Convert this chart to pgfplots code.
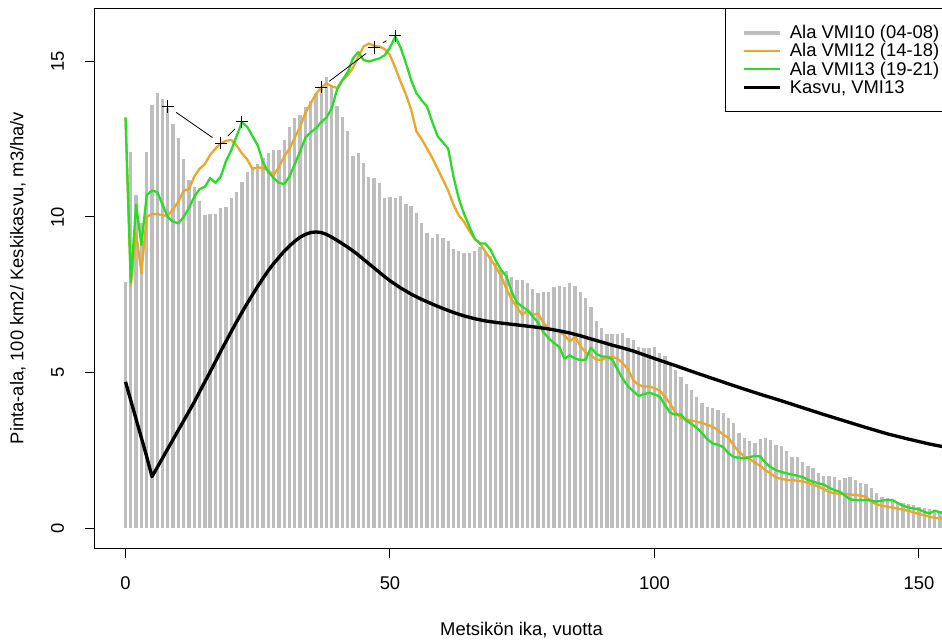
\documentclass[border=0pt]{standalone}
\usepackage{fontspec}
\setmainfont{Liberation Sans}
\usepackage{pgfplots}
\usepackage{pgfplotstable}
\pgfplotsset{compat=1.18}
\definecolor{barGray}{HTML}{BEBEBE}
\definecolor{lineOrange}{RGB}{236,166,40}
\definecolor{lineGreen}{RGB}{40,220,40}
\newcommand{\fnt}{\fontsize{13.8}{16.5}\selectfont}

\pgfplotstableread{
x y
0 7.9
1 12.1
2 10.7
3 9.8
4 12.1
5 13.6
6 14.0
7 13.8
8 13.5
9 13.0
10 12.55
11 11.85
12 11.2
13 10.95
14 10.5
15 10.06
16 10.1
17 10.1
18 10.28
19 10.33
20 10.6
21 10.8
22 11.13
23 11.46
24 11.62
25 11.72
26 11.89
27 12.05
28 12.15
29 12.15
30 12.48
31 12.9
32 13.17
33 13.28
34 13.55
35 13.72
36 13.95
37 14.2
38 14.49
39 14.22
40 13.57
41 13.23
42 12.78
43 11.96
44 12.06
45 11.75
46 11.3
47 11.24
48 11.08
49 10.62
50 10.64
51 10.62
52 10.69
53 10.42
54 10.36
55 10.12
56 9.8
57 9.48
58 9.31
59 9.45
60 9.31
61 9.23
62 8.97
63 8.92
64 8.83
65 8.83
66 8.9
67 9.03
68 8.92
69 8.73
70 8.51
71 8.3
72 8.27
73 8.08
74 7.97
75 7.97
76 7.89
77 7.67
78 7.57
79 7.6
80 7.6
81 7.74
82 7.78
83 7.76
84 7.87
85 7.78
86 7.6
87 7.38
88 7.12
89 6.67
90 6.42
91 6.24
92 6.25
93 6.24
94 6.28
95 6.1
96 6.05
97 5.83
98 5.8
99 5.78
100 5.83
101 5.62
102 5.53
103 5.3
104 5.08
105 4.87
106 4.62
107 4.44
108 4.22
109 4.01
110 3.9
111 3.85
112 3.79
113 3.71
114 3.53
115 3.39
116 3.06
117 2.88
118 2.8
119 2.74
120 2.85
121 2.88
122 2.83
123 2.67
124 2.64
125 2.49
126 2.27
127 2.27
128 2.13
129 1.99
130 1.92
131 1.76
132 1.67
133 1.66
134 1.64
135 1.54
136 1.6
137 1.64
138 1.54
139 1.44
140 1.42
141 1.28
142 1.14
143 1.01
144 0.98
145 0.9
146 0.85
147 0.79
148 0.77
149 0.74
150 0.69
151 0.64
152 0.6
153 0.58
154 0.55
155 0.52
}\bars

\pgfplotstableread{
x y
0 13.2
1 7.8
2 9.5
3 8.2
4 10.0
5 10.1
6 10.1
7 10.05
8 10.05
9 10.25
10 10.5
11 10.85
12 10.9
13 11.3
14 11.55
15 11.7
16 12.0
17 12.2
18 12.37
19 12.45
20 12.48
21 12.3
22 12.05
23 11.85
24 11.55
25 11.6
26 11.57
27 11.5
28 11.35
29 11.6
30 11.95
31 12.2
32 12.55
33 12.9
34 13.35
35 13.65
36 13.95
37 14.17
38 14.3
39 14.2
40 14.15
41 14.4
42 14.55
43 14.8
44 15.15
45 15.48
46 15.58
47 15.5
48 15.48
49 15.4
50 15.2
51 14.8
52 14.35
53 13.95
54 13.45
55 12.75
56 12.5
57 12.2
58 11.9
59 11.55
60 11.2
61 10.85
62 10.4
63 10.05
64 9.85
65 9.55
66 9.3
67 9.15
68 8.9
69 8.65
70 8.4
71 8.1
72 7.7
73 7.35
74 7.1
75 6.85
76 7.0
77 6.85
78 6.9
79 6.6
80 6.42
81 6.38
82 6.3
83 6.2
84 6.0
85 6.15
86 5.85
87 5.65
88 5.55
89 5.42
90 5.4
91 5.5
92 5.5
93 5.45
94 5.3
95 5.1
96 4.75
97 4.6
98 4.55
99 4.55
100 4.5
101 4.42
102 4.22
103 4.0
104 3.7
105 3.55
106 3.5
107 3.45
108 3.42
109 3.38
110 3.32
111 3.26
112 3.15
113 3.0
114 2.9
115 2.65
116 2.45
117 2.3
118 2.22
119 2.1
120 2.0
121 1.86
122 1.75
123 1.62
124 1.58
125 1.55
126 1.54
127 1.52
128 1.5
129 1.45
130 1.4
131 1.33
132 1.25
133 1.16
134 1.12
135 1.1
136 1.09
137 1.08
138 1.06
139 1.04
140 1.0
141 0.85
142 0.76
143 0.72
144 0.68
145 0.66
146 0.62
147 0.59
148 0.55
149 0.5
150 0.45
151 0.41
152 0.36
153 0.33
154 0.31
155 0.3
}\orange

\pgfplotstableread{
x y
0 13.2
1 7.9
2 10.4
3 9.1
4 10.7
5 10.85
6 10.8
7 10.4
8 10.0
9 9.85
10 9.8
11 10.0
12 10.3
13 10.65
14 10.9
15 10.97
16 11.25
17 11.1
18 11.3
19 11.8
20 12.15
21 12.6
22 13.05
23 12.9
24 12.6
25 12.3
26 11.75
27 11.45
28 11.25
29 11.1
30 11.06
31 11.3
32 11.7
33 12.1
34 12.55
35 12.72
36 12.85
37 13.05
38 13.2
39 13.5
40 14.1
41 14.4
42 14.65
43 15.1
44 15.3
45 15.05
46 15.0
47 15.05
48 15.1
49 15.2
50 15.45
51 15.8
52 15.45
53 14.95
54 14.4
55 13.98
56 13.75
57 13.55
58 13.05
59 12.6
60 12.4
61 12.2
62 11.3
63 10.6
64 10.1
65 9.7
66 9.3
67 9.15
68 9.15
69 8.95
70 8.6
71 8.3
72 8.1
73 7.6
74 7.25
75 7.12
76 7.0
77 6.8
78 6.6
79 6.3
80 6.1
81 5.95
82 5.82
83 5.45
84 5.55
85 5.45
86 5.4
87 5.42
88 5.8
89 5.6
90 5.52
91 5.5
92 5.42
93 5.1
94 4.8
95 4.55
96 4.4
97 4.25
98 4.3
99 4.35
100 4.3
101 4.22
102 3.95
103 3.7
104 3.65
105 3.65
106 3.45
107 3.35
108 3.22
109 3.05
110 2.85
111 2.72
112 2.68
113 2.6
114 2.4
115 2.28
116 2.26
117 2.24
118 2.28
119 2.32
120 2.3
121 2.1
122 1.95
123 1.86
124 1.8
125 1.76
126 1.72
127 1.68
128 1.64
129 1.55
130 1.49
131 1.44
132 1.4
133 1.3
134 1.22
135 1.17
136 1.05
137 0.92
138 0.9
139 0.9
140 0.9
141 0.88
142 0.85
143 0.88
144 0.9
145 0.9
146 0.8
147 0.72
148 0.66
149 0.63
150 0.6
151 0.52
152 0.47
153 0.56
154 0.5
155 0.48
}\green

\pgfplotstableread{
x y
0 4.7
1 4.1
2 3.5
3 2.9
4 2.3
5 1.65
6 1.95
7 2.25
8 2.55
9 2.85
10 3.15
11 3.45
12 3.75
13 4.05
14 4.38
15 4.7
16 5.02
17 5.35
18 5.68
19 6.0
20 6.32
21 6.63
22 6.93
23 7.22
24 7.5
25 7.77
26 8.03
27 8.28
28 8.5
29 8.7
30 8.9
31 9.07
32 9.22
33 9.35
34 9.44
35 9.5
36 9.52
37 9.5
38 9.44
39 9.35
40 9.25
41 9.14
42 9.03
43 8.91
44 8.78
45 8.64
46 8.5
47 8.36
48 8.22
49 8.08
50 7.95
52 7.72
54 7.52
56 7.35
58 7.2
60 7.06
62 6.93
64 6.82
66 6.73
68 6.66
70 6.61
72 6.57
74 6.53
76 6.49
78 6.45
80 6.4
82 6.34
84 6.27
86 6.18
88 6.08
90 5.98
92 5.88
94 5.79
96 5.69
98 5.57
100 5.45
104 5.22
108 4.98
112 4.75
116 4.52
120 4.3
124 4.09
128 3.87
132 3.65
136 3.44
140 3.23
144 3.03
148 2.86
152 2.7
155 2.6
}\kasvu

\begin{document}
\begin{tikzpicture}
\begin{axis}[
  at={(0,0)}, anchor=south west,
  scale only axis, width=639.75pt, height=405pt,
  xmin=-5.77, xmax=155.5, ymin=-0.643, ymax=16.72,
  xtick={0,50,100,150}, ytick={0,5,10,15},
  xtick pos=bottom, ytick pos=left,
  tick align=outside, major tick length=7.5pt,
  tick style={black, line width=0.75pt},
  axis line style={line width=0.75pt},
  /pgf/number format/assume math mode=true,
  ticklabel style={font=\fnt},
  xticklabel style={anchor=north, inner sep=0pt, yshift=-13.5pt},
  yticklabel style={rotate=90, anchor=south, inner sep=0pt},
  yticklabel shift=15.6pt,
  xlabel={Metsikön ika, vuotta},
  ylabel={Pinta-ala, 100 km2/ Keskikasvu, m3/ha/v},
  xlabel style={font=\fnt, at={([yshift=-61.5pt]axis description cs:0.5,0)}, anchor=center},
  ylabel style={font=\fnt, at={([xshift=-57.75pt]axis description cs:0,0.5)}, anchor=center, rotate=0},
  legend image code/.code={\draw[#1] (0pt,0pt) -- (27.5pt,0pt);},
  legend cell align=left,
  legend style={at={(axis cs:113.3,16.72)}, anchor=north west,
    draw=black, line width=0.75pt, fill=white,
    inner xsep=12.5pt, inner ysep=12pt, row sep=0.75pt,
    font=\fnt,
    nodes={inner sep=0pt, text height=10.8pt, text depth=2pt},
    /tikz/every odd column/.append style={column sep=6pt}},
]
\addplot[ycomb, no marks, barGray, line width=2.5pt, forget plot] table[x=x,y=y] {\bars};
\addplot[lineOrange, line width=1.7pt, line join=round, no marks, forget plot] table[x=x,y=y] {\orange};
\addplot[lineGreen, line width=1.7pt, line join=round, no marks, forget plot] table[x=x,y=y] {\green};
\addplot[black, line width=2.5pt, line join=round, no marks, forget plot] table[x=x,y=y] {\kasvu};
\addplot[only marks, mark=+, mark size=4.6pt, black, mark options={line width=0.75pt}, forget plot] coordinates {(8,13.55) (18,12.37) (22,13.06) (37,14.17) (47,15.45) (51,15.82)};
\addplot[black, line width=0.6pt, shorten <=7.5pt, shorten >=7.5pt, no marks, forget plot] coordinates {(8,13.55) (18,12.37)};
\addplot[black, line width=0.6pt, shorten <=7.5pt, shorten >=7.5pt, no marks, forget plot] coordinates {(18,12.37) (22,13.06)};
\addplot[black, line width=0.6pt, shorten <=7.5pt, shorten >=7.5pt, no marks, forget plot] coordinates {(37,14.17) (47,15.45)};
\addplot[black, line width=0.6pt, shorten <=7.5pt, shorten >=7.5pt, no marks, forget plot] coordinates {(47,15.45) (51,15.82)};
\addlegendimage{barGray, line width=2.5pt}
\addlegendentry{Ala VMI10 (04-08)}
\addlegendimage{lineOrange, line width=1.7pt}
\addlegendentry{Ala VMI12 (14-18)}
\addlegendimage{lineGreen, line width=1.7pt}
\addlegendentry{Ala VMI13 (19-21)}
\addlegendimage{black, line width=2.5pt}
\addlegendentry{Kasvu, VMI13}
\end{axis}
\pgfresetboundingbox
\path[use as bounding box] (-71.25pt,-69pt) rectangle (635.25pt,411pt);
\end{tikzpicture}
\end{document}
